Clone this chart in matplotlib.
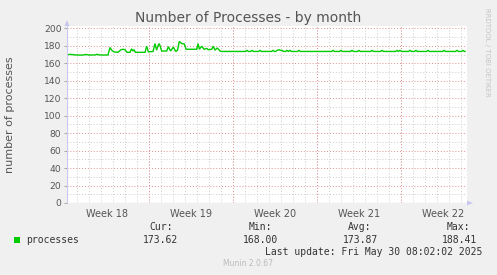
import matplotlib
matplotlib.use("Agg")
import matplotlib.pyplot as plt
from matplotlib.patches import Polygon
import numpy as np

W, H = 497, 275

# ---- data (x in days from left edge of graph) ----
days = [0.00, 0.25, 0.50, 0.75, 1.25, 1.58, 1.83, 2.33, 2.50, 2.67, 3.08, 3.42,
        3.58, 3.75, 3.92, 4.25, 4.50, 4.67, 4.83, 5.00, 5.25, 5.38, 5.50, 5.58, 5.71,
        6.50, 6.64, 6.78, 7.17, 7.33, 7.47, 7.58, 7.69, 7.89, 8.31, 8.44, 8.64, 8.86,
        9.06, 9.21, 9.36, 9.56, 9.78, 9.92, 10.81, 10.92, 11.03, 11.22, 11.42, 11.64,
        11.78, 12.06, 12.19, 12.33, 12.53, 12.75, 12.89,
        14.88, 15.00, 15.12, 15.30, 15.42, 15.54, 15.96, 16.08, 16.20,
        17.05, 17.17, 17.29, 17.40, 17.50, 17.67, 17.80, 17.92, 18.04,
        18.21, 18.33, 18.45, 18.58, 18.70, 19.21, 19.33, 19.45,
        22.05, 22.17, 22.29, 22.71, 22.83, 22.95, 23.63, 23.75, 23.87,
        24.21, 24.33, 24.45, 25.30, 25.42, 25.54, 26.13, 26.25, 26.37,
        27.38, 27.50, 27.62, 27.75, 27.87, 28.46, 28.58, 28.70,
        28.96, 29.08, 29.20, 29.96, 30.08, 30.20, 31.30, 31.42, 31.54,
        32.38, 32.50, 32.62, 32.88, 33.00, 33.12, 33.17]
processes = [169.5, 170.2, 169.8, 169.5, 169.3, 170.0, 169.4, 169.5, 170.2, 169.5, 169.4, 169.5,
             178.0, 174.5, 173.0, 172.5, 175.5, 176.0, 175.5, 172.5, 172.5, 176.5, 174.0, 175.5, 172.5,
             172.5, 179.5, 173.0, 173.5, 182.5, 175.0, 180.0, 182.5, 174.0, 174.0, 179.0, 174.0, 178.5,
             173.5, 175.0, 185.0, 182.5, 182.0, 176.0, 176.0, 182.5, 176.0, 179.5, 176.0, 177.0,
             175.5, 176.0, 179.5, 175.0, 177.5, 174.0, 173.5,
             173.5, 174.7, 173.5, 173.5, 174.7, 173.5, 173.5, 174.7, 173.5,
             173.5, 174.7, 173.5, 173.5, 174.7, 175.5, 174.7, 174.7, 173.5,
             173.5, 174.7, 173.5, 174.7, 173.5, 173.5, 174.7, 173.5,
             173.5, 174.7, 173.5, 173.5, 174.7, 173.5, 173.5, 174.7, 173.5,
             173.5, 174.7, 173.5, 173.5, 174.7, 173.5, 173.5, 174.7, 173.5,
             173.5, 174.7, 173.5, 174.7, 173.5, 173.5, 174.7, 173.5,
             173.5, 174.7, 173.5, 173.5, 174.7, 173.5, 173.5, 174.7, 173.5,
             173.5, 174.7, 173.5, 173.5, 174.7, 173.5, 173.5]

week_labels = ["Week 18", "Week 19", "Week 20", "Week 21", "Week 22"]
week_bounds = [6.86, 13.86, 20.86, 27.86]
week_centers = [3.36, 10.36, 17.36, 24.36, 31.36]
y_ticks = [0, 20, 40, 60, 80, 100, 120, 140, 160, 180, 200]

stat_names = ["Cur:", "Min:", "Avg:", "Max:"]
stat_values = ["173.62", "168.00", "173.87", "188.41"]
series_name = "processes"
last_update = "Last update: Fri May 30 08:02:02 2025"

# ---- figure ----
BG = "#F0F0F0"
TXT = "#555555"
fig = plt.figure(figsize=(W / 100, H / 100), dpi=100, facecolor=BG)

def px(x, y):
    return x / W, 1 - y / H

left, right, top, bottom = 67, 467, 26, 203
ax = fig.add_axes([left / W, 1 - bottom / H, (right - left) / W, (bottom - top) / H])
ax.set_facecolor("white")
xmax = 400 / 12.0
ax.set_xlim(0, xmax)
ax.set_ylim(0, 200 * (bottom - top) / (bottom - 28.3))

# grid
minor_x = np.arange(0.86, xmax, 1.0)
for x in minor_x:
    ax.axvline(x, color="#CCCCCC", lw=0.7, ls=(0, (1, 2)), zorder=1)
for x in week_bounds:
    ax.axvline(x, color="#E09090", lw=0.7, ls=(0, (1, 2)), zorder=1.5)
for y in range(10, 201, 20):
    ax.axhline(y, color="#CCCCCC", lw=0.7, ls=(0, (1, 2)), zorder=1)
for y in y_ticks[1:]:
    ax.axhline(y, color="#E09090", lw=0.7, ls=(0, (1, 2)), zorder=1.5)

ax.plot(days, processes, color="#00CC00", lw=1.0, zorder=3, solid_joinstyle="miter")

for s in ax.spines.values():
    s.set_visible(False)
ax.axvline(0, color="#C8C8F0", lw=0.9, zorder=4)
ax.axhline(0, color="#C8C8F0", lw=0.9, zorder=4)

ax.set_yticks(y_ticks)
ax.set_yticklabels([str(v) for v in y_ticks], fontsize=6.6, color=TXT)
ax.tick_params(axis="y", length=2, width=0.6, color="#999999", pad=2)
ax.set_xticks(week_centers)
ax.set_xticklabels(week_labels, fontsize=7, color=TXT)
ax.tick_params(axis="x", length=0, pad=4)

# arrows
fig.add_artist(Polygon([px(64.5, 26), px(69.5, 26), px(67, 20)], closed=True,
                       transform=fig.transFigure, color="#C8C8F0", lw=0))
fig.add_artist(Polygon([px(467, 200.5), px(467, 205.5), px(473, 203)], closed=True,
                       transform=fig.transFigure, color="#C8C8F0", lw=0))

# texts
fig.text(*px(248, 18), "Number of Processes - by month", ha="center", va="center",
         fontsize=10, color=TXT)
fig.text(*px(10, 115), "number of processes", rotation=90, ha="center", va="center",
         fontsize=8, color=TXT)
fig.text(*px(487, 52), "RRDTOOL / TOBI OETIKER", rotation=270, ha="center", va="center",
         fontsize=5, color="#C4C4C4")

mono = "DejaVu Sans Mono"
fig.add_artist(Polygon([px(14, 237), px(20, 237), px(20, 243), px(14, 243)], closed=True,
                       transform=fig.transFigure, color="#00CC00", lw=0))
fig.text(*px(26, 240), series_name, ha="left", va="center", fontsize=7, family=mono, color="#333333")
name_right = [173, 272, 371, 470]
val_right = [178.5, 278.5, 378, 477]
for nm, v, xr, xv in zip(stat_names, stat_values, name_right, val_right):
    fig.text(*px(xr, 227.5), nm, ha="right", va="center", fontsize=7, family=mono, color="#333333")
    fig.text(*px(xv, 240), v, ha="right", va="center", fontsize=7, family=mono, color="#333333")
fig.text(*px(482, 252), last_update, ha="right", va="center", fontsize=7, family=mono, color="#333333")
fig.text(*px(248, 264), "Munin 2.0.67", ha="center", va="center", fontsize=5.5, color="#BBBBBB")

fig.savefig("out.png", dpi=100, facecolor=BG)
